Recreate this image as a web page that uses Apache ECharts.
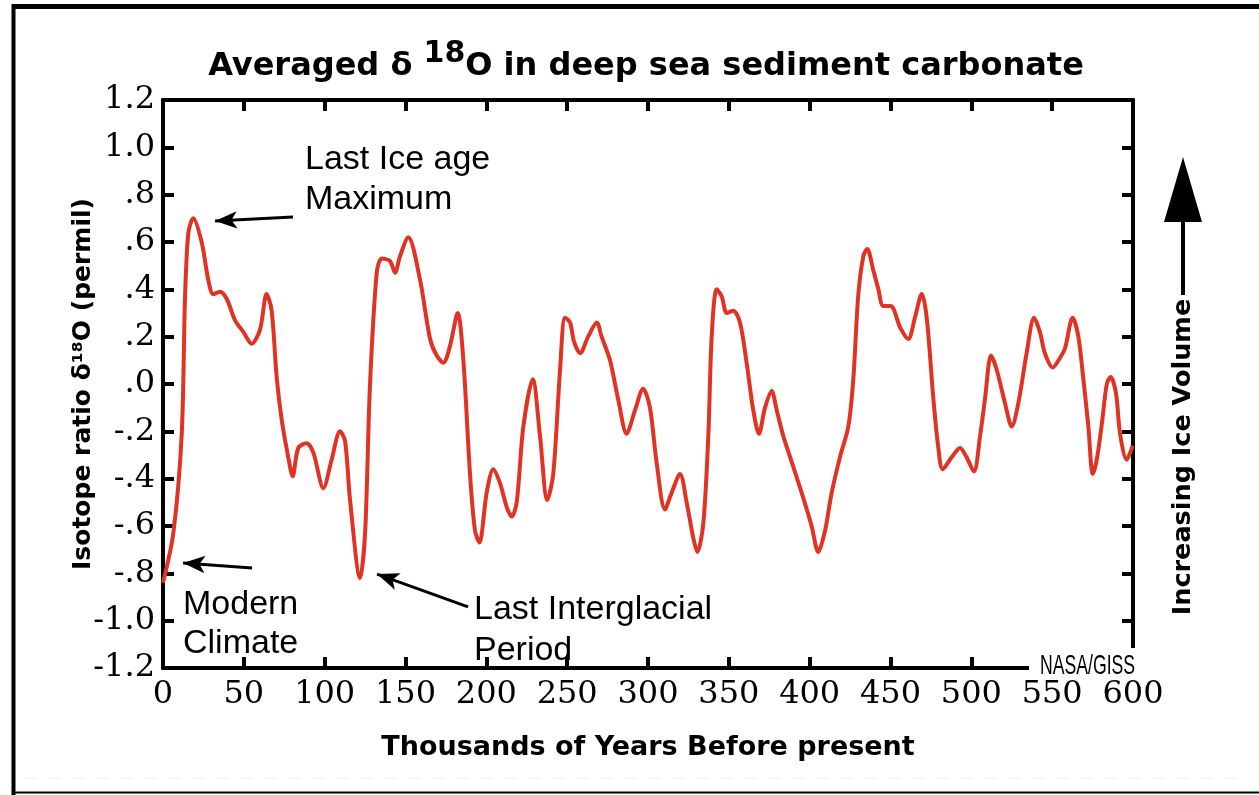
<!DOCTYPE html>
<html>
<head>
<meta charset="utf-8">
<title>Averaged d18O</title>
<script src="https://cdn.jsdelivr.net/npm/echarts@6/dist/echarts.min.js"></script>
<style>
    html, body { margin: 0; padding: 0; background: #fff; }
    #chart { width: 1259px; height: 795px; }
</style>
</head>
<body>
<div id="chart"></div>
<script>
    // thousands of years before present
    const years = [0, 6.4, 11.6, 13.6, 15.7, 18.7, 23.9, 28, 31.1, 35.3, 39.4, 44.5, 49.7, 54.9, 60, 64.1, 67.2,
        70.3, 73.4, 77.5, 80.2, 83.7, 88.9, 93, 99.2, 104.3, 109.5, 112.6, 115.7, 121.9, 125, 128, 132.2, 135.3,
        140.4, 143.5, 146.6, 151.7, 159, 165.2, 169.3, 173.4, 177.5, 182.3, 185.8, 189.9, 193, 195.7, 200.2,
        204.3, 208.5, 212.6, 215.7, 218.8, 222.9, 228.7, 233.2, 237.7, 241.4, 245.6, 248.7, 251.8, 254.2, 258,
        263, 268.3, 271.3, 276.5, 281.7, 286.8, 292, 297, 301.2, 305.3, 310.5, 314.6, 319.8, 323.9, 328, 330.5,
        334.2, 337.3, 339.4, 342.5, 345.6, 348.7, 352.7, 356.9, 361, 365.1, 368.6, 372.4, 376.5, 379.6, 383.7,
        389.9, 396, 401.2, 405.3, 409.5, 413.6, 418.7, 423.9, 427, 430, 433.2, 435.6, 439.4, 442.5, 445.5, 450.1,
        455.9, 461, 465.1, 469.3, 472.4, 476.5, 479.6, 482.3, 487.8, 493, 497.1, 501.6, 505.4, 508.5, 512.2,
        515.7, 520.8, 525, 529.1, 534.2, 538.8, 542.4, 545.5, 550.3, 554.8, 557.9, 562.7, 566.2, 569.3, 572.4,
        575.1, 577.6, 580.7, 583.8, 586.2, 589.5, 592, 596.1, 599.8];
    // isotope ratio d18O (permil)
    const d18o = [-0.84, -0.63, -0.21, 0.36, 0.64, 0.70, 0.60, 0.44, 0.38, 0.39, 0.36, 0.27, 0.22, 0.17, 0.23, 0.38, 0.31,
        0.03, -0.15, -0.31, -0.39, -0.27, -0.25, -0.29, -0.44, -0.32, -0.20, -0.24, -0.49, -0.82, -0.63, -0.01, 0.47, 0.53,
        0.52, 0.47, 0.54, 0.62, 0.44, 0.19, 0.12, 0.09, 0.16, 0.30, 0.10, -0.38, -0.62, -0.67, -0.46,
        -0.36, -0.42, -0.52, -0.56, -0.50, -0.18, 0.02, -0.22, -0.49, -0.38, 0.06, 0.28, 0.26, 0.18, 0.13,
        0.20, 0.26, 0.20, 0.10, -0.07, -0.21, -0.11, -0.02, -0.10, -0.33, -0.53, -0.46, -0.38, -0.50, -0.65, -0.71,
        -0.59, -0.22, 0.20, 0.40, 0.37, 0.30, 0.31, 0.26, 0.09, -0.11, -0.21, -0.10, -0.03, -0.11, -0.22,
        -0.35, -0.48, -0.60, -0.71, -0.62, -0.46, -0.31, -0.18, 0.02, 0.37, 0.54, 0.57, 0.48, 0.40, 0.33, 0.33,
        0.24, 0.19, 0.28, 0.38, 0.28, -0.06, -0.27, -0.36, -0.31, -0.27, -0.31, -0.37, -0.22, -0.06, 0.12,
        0.06, -0.08, -0.18, -0.08, 0.13, 0.28, 0.22, 0.13, 0.07, 0.11, 0.15, 0.28, 0.20, 0.02, -0.18,
        -0.38, -0.32, -0.17, 0.00, 0.03, -0.04, -0.21, -0.32, -0.26];

    const xTicks = [0, 600, 50];
    const yTicks = [-1.2, 1.2, 0.2];

    // annotation arrows: [from, to] in data coords
    const arrows = [
        [[80.4, 0.706], [32.2, 0.689]],
        [[55.1, -0.777], [12.4, -0.756]],
        [[188.7, -0.942], [132.4, -0.803]]
    ];

    const data = [];
    for (let i = 0; i < years.length; i++) {
        data.push([years[i], d18o[i]]);
    }

    function yLabel(v) {
        let s = v.toFixed(1);
        return s.replace(/^(-?)0\./, '$1.');
    }

    const serif = 'DejaVu Serif';
    const sans = 'DejaVu Sans';
    const arial = 'Liberation Sans';

    const axisCommon = {
        type: 'value',
        axisLine: { show: true, onZero: false, lineStyle: { color: '#000', width: 4 } },
        axisTick: { show: true, inside: true, length: 11, lineStyle: { color: '#000', width: 4 } },
        splitLine: { show: false }
    };

    const option = {
        animation: false,
        backgroundColor: '#fff',
        title: {
            text: '{a|Averaged δ }{sup|18}{a|O in deep sea sediment carbonate}',
            left: 641,
            top: 34,
            textAlign: 'center',
            textStyle: {
                rich: {
                    a: { fontFamily: sans, fontWeight: 'bold', fontSize: 32, lineHeight: 56, color: '#000' },
                    sup: { fontFamily: sans, fontWeight: 'bold', fontSize: 30, lineHeight: 28, verticalAlign: 'top', color: '#000' }
                }
            }
        },
        grid: { left: 163, right: 126, top: 100, bottom: 127 },
        xAxis: [
            Object.assign({}, axisCommon, {
                position: 'bottom',
                min: xTicks[0], max: xTicks[1], interval: xTicks[2],
                name: 'Thousands of Years Before present',
                nameLocation: 'middle',
                nameGap: 66,
                nameTextStyle: { fontFamily: sans, fontWeight: 'bold', fontSize: 27, color: '#000' },
                axisLabel: { fontFamily: serif, fontSize: 32, color: '#000', margin: 11 }
            }),
            Object.assign({}, axisCommon, {
                position: 'top',
                min: xTicks[0], max: xTicks[1], interval: xTicks[2],
                axisLabel: { show: false }
            })
        ],
        yAxis: [
            Object.assign({}, axisCommon, {
                position: 'left',
                min: yTicks[0], max: yTicks[1], interval: yTicks[2],
                name: 'Isotope ratio δ¹⁸O (permil)',
                nameLocation: 'middle',
                nameGap: 67,
                nameMoveOverlap: false,
                nameTextStyle: { fontFamily: sans, fontWeight: 'bold', fontSize: 25, color: '#000' },
                axisLabel: { fontFamily: serif, fontSize: 32, color: '#000', margin: 8, formatter: yLabel }
            }),
            Object.assign({}, axisCommon, {
                position: 'right',
                min: yTicks[0], max: yTicks[1], interval: yTicks[2],
                axisLabel: { show: false }
            })
        ],
        series: [
            {
                type: 'line',
                data: data,
                smooth: 0.3,
                showSymbol: false,
                lineStyle: { color: '#e03324', width: 4 },
                z: 3,
                markLine: {
                    silent: true,
                    symbol: ['none', 'arrow'],
                    symbolSize: [13, 22],
                    label: { show: false },
                    lineStyle: { color: '#000', width: 3, type: 'solid' },
                    data: arrows.map(function (a) {
                        return [{ coord: a[0] }, { coord: a[1] }];
                    })
                }
            }
        ],
        graphic: [
            // outer frame
            { type: 'line', shape: { x1: 13.5, y1: 4, x2: 13.5, y2: 795 }, style: { stroke: '#000', lineWidth: 4 } },
            { type: 'line', shape: { x1: 12, y1: 6.5, x2: 1259, y2: 6.5 }, style: { stroke: '#000', lineWidth: 5 } },
            { type: 'line', shape: { x1: 12, y1: 792.5, x2: 1259, y2: 792.5 }, style: { stroke: '#000', lineWidth: 2 } },
            { type: 'line', shape: { x1: 25, y1: 778, x2: 1245, y2: 778 }, style: { stroke: '#eee', lineWidth: 1, lineDash: [12, 12] } },
            // NASA/GISS label breaking the frame corner
            { type: 'rect', z: 100, shape: { x: 1029, y: 648, width: 112, height: 30 }, style: { fill: '#fff' } },
            {
                type: 'text', z: 101, x: 1040, y: 652, scaleX: 0.63,
                style: { text: 'NASA/GISS', font: '28px "Liberation Sans"', fill: '#000' }
            },
            // annotations
            {
                type: 'text', x: 305, y: 140,
                style: { text: 'Last Ice age\nMaximum', fontFamily: arial, fontSize: 34, lineHeight: 40, fill: '#000' }
            },
            {
                type: 'text', x: 183, y: 585,
                style: { text: 'Modern\nClimate', fontFamily: arial, fontSize: 34, lineHeight: 39, fill: '#000' }
            },
            {
                type: 'text', x: 474, y: 589,
                style: { text: 'Last Interglacial\nPeriod', fontFamily: arial, fontSize: 34, lineHeight: 41, fill: '#000' }
            },
            // increasing ice volume arrow
            { type: 'line', shape: { x1: 1183, y1: 295, x2: 1183, y2: 220 }, style: { stroke: '#000', lineWidth: 4 } },
            { type: 'polygon', shape: { points: [[1164, 222], [1202, 222], [1183, 157]] }, style: { fill: '#000' } },
            {
                type: 'text', x: 1183, y: 457, rotation: Math.PI / 2,
                style: {
                    text: 'Increasing Ice Volume', fontFamily: sans, fontWeight: 'bold', fontSize: 25.5,
                    fill: '#000', align: 'center', verticalAlign: 'middle'
                }
            }
        ]
    };

    const chart = echarts.init(document.getElementById('chart'), null, { renderer: 'canvas' });
    chart.setOption(option);
</script>
</body>
</html>
